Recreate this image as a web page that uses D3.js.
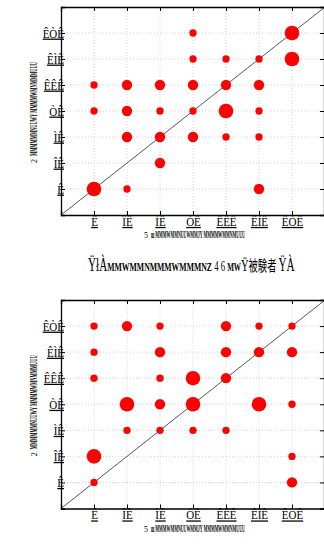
<!DOCTYPE html>
<html>
<head>
<meta charset="utf-8">
<script src="https://d3js.org/d3.v7.min.js"></script>
<style>
  body { margin: 0; background: #fff; }
  text { font-family: "Liberation Serif", "DejaVu Serif", serif; }
</style>
</head>
<body>
<svg id="chart" width="324" height="546"></svg>
<script>
// tick values and their (garbled) labels as shown in the reference
var tickValues = [1, 2, 3, 4, 5, 6, 7];
var tickLabels = ["Ê", "ÎÊ", "ÌÊ", "ÒÊ", "ÊÊÊ", "ÊÌÊ", "ÊÒÊ"];

// panel A (top)
var aX = [4, 7, 4, 5, 6, 7, 1, 2, 3, 4, 5, 6, 1, 2, 3, 4, 5, 6, 2, 3, 4, 5, 6, 3, 1, 2, 6];
var aY = [7, 7, 6, 6, 6, 6, 5, 5, 5, 5, 5, 5, 4, 4, 4, 4, 4, 4, 3, 3, 3, 3, 3, 2, 1, 1, 1];
var aN = [1, 4, 1, 1, 1, 4, 1, 2, 2, 2, 2, 2, 1, 2, 1, 1, 4, 1, 2, 2, 2, 1, 1, 2, 4, 1, 2];

// panel B (bottom)
var bX = [1, 2, 3, 5, 6, 7, 1, 3, 5, 6, 7, 1, 3, 4, 5, 2, 3, 4, 6, 7, 2, 3, 4, 5, 1, 7, 1, 7];
var bY = [7, 7, 7, 7, 7, 7, 6, 6, 6, 6, 6, 5, 5, 5, 5, 4, 4, 4, 4, 4, 3, 3, 3, 3, 2, 2, 1, 1];
var bN = [1, 2, 1, 2, 1, 1, 1, 2, 2, 2, 2, 1, 1, 4, 2, 4, 2, 4, 4, 1, 1, 1, 1, 1, 4, 1, 1, 2];

var xLabelText = "ш MMMWMMNUUWMMJY MMMMWMMNMUUU";
var yLabelText = "MMMMMMNUUWY MMMMWMNMMMUUU";

var svg = d3.select("#chart");
var r = d3.scaleSqrt().domain([0, 4]).range([0, 7.3]);

// squeeze a text horizontally so it spans w pixels
function squeeze(t, x0, y0, w, rot) {
  var len = t.node().getComputedTextLength();
  var s = w / len;
  t.attr("x", 0).attr("y", 0)
    .attr("transform", "translate(" + x0 + "," + y0 + ")" + (rot ? " rotate(-90)" : "") + " scale(" + s + ",1)");
}

function panel(top, bottom, xs, ys, ns) {
  var x = d3.scaleLinear().domain([0, 8]).range([61, 325]);
  var y = d3.scaleLinear().domain([0, 8]).range([bottom, top]);
  var g = svg.append("g");
  var pts = xs.map(function(v, i) { return { x: v, y: ys[i], n: ns[i] }; });

  // dotted grid
  g.selectAll(".gx").data(tickValues).enter().append("line")
    .attr("x1", d => x(d)).attr("x2", d => x(d))
    .attr("y1", y(0)).attr("y2", y(8))
    .attr("stroke", "#c8c8c8").attr("stroke-dasharray", "1,2").attr("stroke-width", 0.8);
  g.selectAll(".gy").data(tickValues).enter().append("line")
    .attr("y1", d => y(d)).attr("y2", d => y(d))
    .attr("x1", x(0)).attr("x2", x(8))
    .attr("stroke", "#c8c8c8").attr("stroke-dasharray", "1,2").attr("stroke-width", 0.8);

  // identity line
  g.append("path")
    .datum([0, 8])
    .attr("d", d3.line().x(d => x(d)).y(d => y(d)))
    .attr("stroke", "#444").attr("stroke-width", 0.9).attr("fill", "none");

  // bubbles
  g.selectAll("circle").data(pts).enter().append("circle")
    .attr("cx", d => x(d.x)).attr("cy", d => y(d.y))
    .attr("r", d => r(d.n))
    .attr("fill", "#ff0000");

  var fmt = function(d) { return tickLabels[tickValues.indexOf(d)]; };

  var ax = g.append("g").attr("transform", "translate(0," + y(0) + ")")
    .call(d3.axisBottom(x).tickValues(tickValues).tickFormat(fmt).tickSize(-4).tickPadding(2));
  var axTop = g.append("g").attr("transform", "translate(0," + y(8) + ")")
    .call(d3.axisTop(x).tickValues(tickValues).tickFormat("").tickSize(-4));
  var ay = g.append("g").attr("transform", "translate(" + x(0) + ",0)")
    .call(d3.axisLeft(y).tickValues(tickValues).tickFormat(fmt).tickSize(-4).tickPadding(-3));
  var ayR = g.append("g").attr("transform", "translate(" + (x(8) - 1) + ",0)")
    .call(d3.axisRight(y).tickValues(tickValues).tickFormat("").tickSize(-4));

  [ax, axTop, ay, ayR].forEach(function(a) {
    a.select(".domain").attr("stroke", "#000").attr("stroke-width", 1.3);
    a.selectAll(".tick line").attr("stroke", "#000");
    a.selectAll(".tick text")
      .attr("font-family", "Liberation Serif").attr("font-size", 12.5)
      .attr("fill", "#000").attr("text-decoration", "underline");
  });
  ax.selectAll(".tick text").attr("transform", "scale(0.88,1)");
  ay.selectAll(".tick text").attr("x", 3 / 0.88).attr("transform", "scale(0.88,1)");

  // axis labels
  g.append("text").attr("x", 144).attr("y", bottom + 23)
    .attr("font-size", 8).text("5");
  var xl = g.append("text")
    .attr("font-family", "Liberation Sans Narrow").attr("font-size", 10.5).attr("font-weight", "bold")
    .text(xLabelText);
  squeeze(xl, 151, bottom + 23, 94, false);

  var midY = (top + bottom) / 2;
  g.append("text").attr("transform", "translate(37," + (midY + 52) + ") rotate(-90)")
    .attr("font-size", 8).text("2");
  var yl = g.append("text")
    .attr("font-family", "Liberation Sans Narrow").attr("font-size", 11).attr("font-weight", "bold")
    .text(yLabelText);
  squeeze(yl, 37, midY + 45, 94, true);
}

panel(7, 215, aX, aY, aN);
panel(300, 508.5, bX, bY, bN);

// caption between the panels, as one line
var cap = svg.append("text").attr("fill", "#000");
cap.append("tspan").attr("font-size", 18).text("ŸłÀ");
cap.append("tspan").attr("font-size", 12.5).attr("font-family", "Liberation Sans Narrow")
  .attr("font-weight", "bold").text("MMWMMNMMMWMMMNZ");
cap.append("tspan").attr("font-size", 14).text(" 4 6 ");
cap.append("tspan").attr("font-size", 11.5).attr("font-family", "Liberation Sans Narrow")
  .attr("font-weight", "bold").text("MW");
cap.append("tspan").attr("font-size", 17).text("Ÿ");
cap.append("tspan").attr("font-size", 15).attr("font-family", "Noto Sans CJK JP").text("被験者 ");
cap.append("tspan").attr("font-size", 18).text("ŸÀ");
squeeze(cap, 88, 271, 207, false);
</script>
</body>
</html>
